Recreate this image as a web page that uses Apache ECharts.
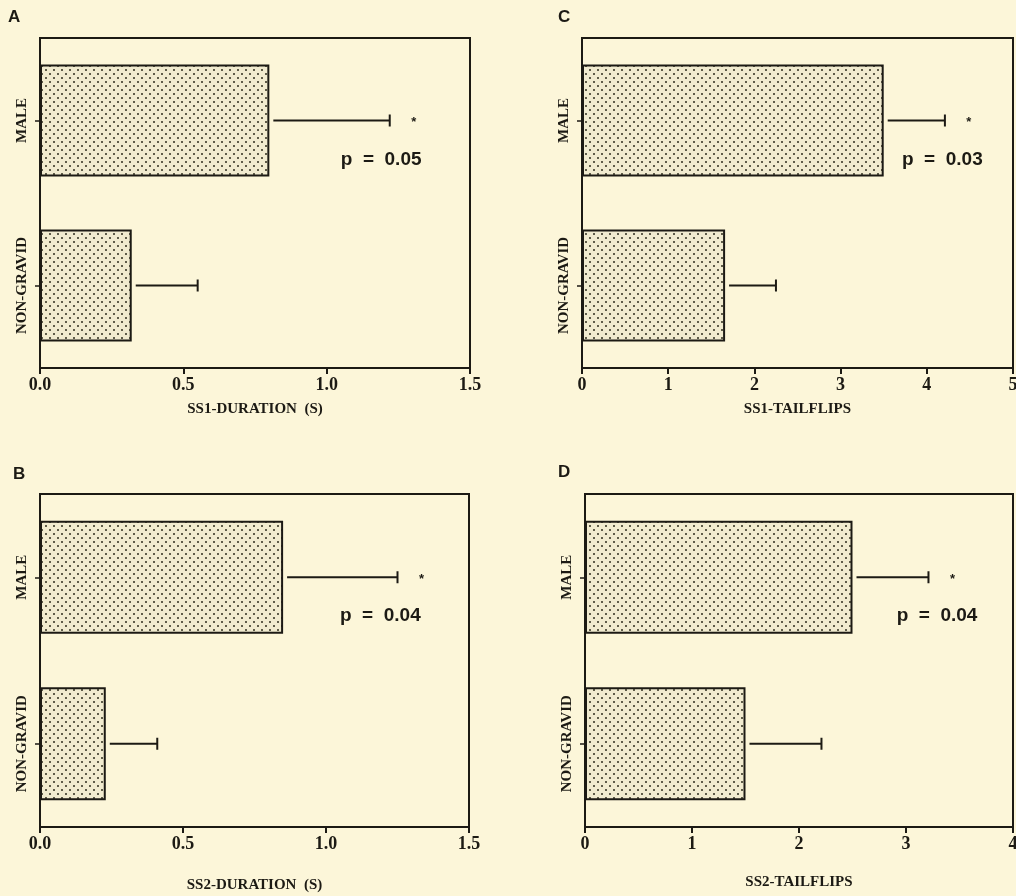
<!DOCTYPE html>
<html>
<head>
<meta charset="utf-8">
<script src="https://cdn.jsdelivr.net/npm/echarts@6/dist/echarts.min.js"></script>
<style>
html,body{margin:0;padding:0;background:#FCF6D9;}
#c{width:1016px;height:896px;}
</style>
</head>
<body>
<div id="c"></div>
<script>
// ---- data ----
const categories = ['MALE', 'NON-GRAVID'];
const ss1Duration = [0.80, 0.32];
const ss1DurationErr = [1.22, 0.55];
const ss1Tailflips = [3.50, 1.66];
const ss1TailflipsErr = [4.21, 2.25];
const ss2Duration = [0.85, 0.23];
const ss2DurationErr = [1.25, 0.41];
const ss2Tailflips = [2.50, 1.50];
const ss2TailflipsErr = [3.21, 2.21];
const pLabels = ['p  =  0.05', 'p  =  0.03', 'p  =  0.04', 'p  =  0.04'];
const panelLetters = ['A', 'C', 'B', 'D'];
const axisTitles = ['SS1-DURATION  (S)', 'SS1-TAILFLIPS', 'SS2-DURATION  (S)', 'SS2-TAILFLIPS'];
const axisMax = [1.5, 5, 1.5, 4];
const axisInterval = [0.5, 1, 0.5, 1];
const tickDecimals = [1, 0, 1, 0];
const pTextAt = [1.19, 4.18, 1.19, 3.29];

// ---- layout / style ----
const INK = '#1c1a14';
const BG = '#FCF6D9';
const grids = [
  {left: 40, top: 38, width: 430, height: 330},
  {left: 582, top: 38, width: 431, height: 330},
  {left: 40, top: 494, width: 429, height: 333},
  {left: 585, top: 494, width: 428, height: 333}
];
const nameGaps = [34, 34, 51, 48];
const letterPos = [[13, 18], [563, 18], [18, 475], [563, 473]];

// dotted pattern
const pc = document.createElement('canvas');
pc.width = 8; pc.height = 8;
const g = pc.getContext('2d');
g.fillStyle = '#F1EBCF';
g.fillRect(0, 0, 8, 8);
g.fillStyle = '#5f5c49';
g.fillRect(1, 1, 2, 2);
g.fillRect(5, 5, 2, 2);

const values = [ss1Duration, ss1Tailflips, ss2Duration, ss2Tailflips];
const errs = [ss1DurationErr, ss1TailflipsErr, ss2DurationErr, ss2TailflipsErr];

const serif = "'Liberation Serif', 'Times New Roman', serif";
const sans = "'Liberation Sans', Arial, sans-serif";

const option = {
  backgroundColor: BG,
  animation: false,
  grid: grids.map(gr => Object.assign({show: true, borderColor: INK, borderWidth: 2,
    backgroundColor: 'transparent', containLabel: false, outerBoundsMode: 'none'}, gr)),
  xAxis: grids.map((gr, i) => ({
    gridIndex: i,
    type: 'value',
    min: 0,
    max: axisMax[i],
    interval: axisInterval[i],
    splitLine: {show: false},
    axisLine: {show: true, lineStyle: {color: INK, width: 2}},
    axisTick: {show: true, length: 6, lineStyle: {color: INK, width: 2}},
    axisLabel: {
      color: INK, fontFamily: serif, fontWeight: 'bold', fontSize: 18, margin: 8,
      formatter: v => v.toFixed(tickDecimals[i])
    },
    name: axisTitles[i],
    nameLocation: 'middle',
    nameGap: nameGaps[i],
    nameTextStyle: {color: INK, fontFamily: serif, fontWeight: 'bold', fontSize: 15, letterSpacing: 1.5}
  })),
  yAxis: grids.map((gr, i) => ({
    gridIndex: i,
    type: 'category',
    data: categories,
    inverse: true,
    axisLine: {show: true, lineStyle: {color: INK, width: 2}},
    axisTick: {show: true, alignWithLabel: true, length: 5, lineStyle: {color: INK, width: 1.5}},
    axisLabel: {rotate: 90, color: INK, fontFamily: serif, fontWeight: 'bold', fontSize: 15, margin: 10}
  })),
  graphic: panelLetters.map((t, i) => ({
    type: 'text', left: letterPos[i][0] - 5, top: letterPos[i][1] - 9,
    style: {text: t, fill: INK, font: "bold 17px " + sans}
  })),
  series: []
};

values.forEach((vals, i) => {
  option.series.push({
    type: 'bar',
    xAxisIndex: i, yAxisIndex: i,
    data: vals,
    barWidth: '68%',
    itemStyle: {color: {image: pc, repeat: 'repeat'}, borderColor: INK, borderWidth: 2}
  });
  option.series.push({
    type: 'custom',
    xAxisIndex: i, yAxisIndex: i,
    data: errs[i].map((e, k) => [e, k, vals[k]]),
    renderItem: (params, api) => {
      const s = api.coord([api.value(2), api.value(1)]);
      const e = api.coord([api.value(0), api.value(1)]);
      const st = {stroke: INK, lineWidth: 2};
      return {
        type: 'group',
        children: [
          {type: 'line', shape: {x1: s[0] + 4, y1: s[1], x2: e[0], y2: e[1]}, style: st},
          {type: 'line', shape: {x1: e[0], y1: e[1] - 6, x2: e[0], y2: e[1] + 6}, style: st}
        ]
      };
    },
    z: 3
  });
  // significance star beside the MALE error bar
  option.series.push({
    type: 'custom',
    xAxisIndex: i, yAxisIndex: i,
    data: [[errs[i][0], 0]],
    renderItem: (params, api) => {
      const p = api.coord([api.value(0), api.value(1)]);
      return {type: 'text', x: p[0] + 24, y: p[1] + 2,
        style: {text: '*', fill: INK, font: "bold 13px " + sans, align: 'center', verticalAlign: 'middle'}};
    },
    z: 3
  });
  // p-value text
  option.series.push({
    type: 'custom',
    xAxisIndex: i, yAxisIndex: i,
    data: [[pTextAt[i], 0]],
    renderItem: (params, api) => {
      const p = api.coord([api.value(0), api.value(1)]);
      return {type: 'text', x: p[0], y: p[1] + 39,
        style: {text: pLabels[i], fill: INK, font: "bold 19px " + sans, align: 'center', verticalAlign: 'middle'}};
    },
    z: 3
  });
});

const chart = echarts.init(document.getElementById('c'), null, {renderer: 'canvas'});
chart.setOption(option);
</script>
</body>
</html>
